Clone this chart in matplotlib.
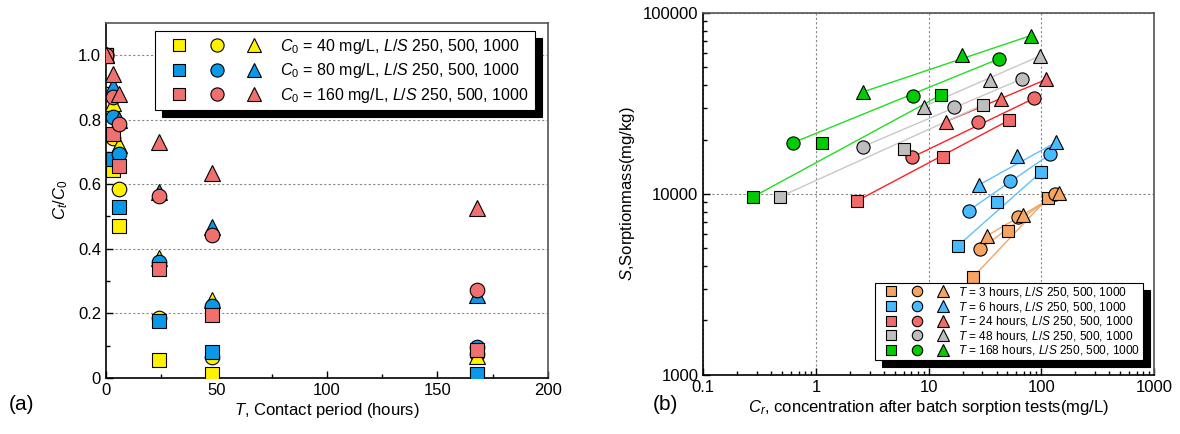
import numpy as np
import matplotlib
matplotlib.use("Agg")
import matplotlib.pyplot as plt
from matplotlib.lines import Line2D
from matplotlib.legend_handler import HandlerTuple
from matplotlib.ticker import NullFormatter

plt.rcParams['font.family'] = ['Liberation Sans', 'DejaVu Sans']
plt.rcParams['mathtext.fontset'] = 'custom'
plt.rcParams['mathtext.rm'] = 'Liberation Sans'
plt.rcParams['mathtext.it'] = 'Liberation Sans:italic'
plt.rcParams['xtick.direction'] = 'in'
plt.rcParams['ytick.direction'] = 'in'

# ---- (a) C/C0 vs contact time ----
times = [0, 3, 6, 24, 48, 168]
c40_ls250 = [1.0, 0.644, 0.469, 0.057, 0.012, 0.010]
c40_ls500 = [1.0, 0.742, 0.585, 0.186, 0.065, 0.075]
c40_ls1000 = [1.0, 0.850, 0.720, 0.371, 0.242, 0.068]
c80_ls250 = [1.0, 0.677, 0.529, 0.175, 0.079, 0.012]
c80_ls500 = [1.0, 0.807, 0.693, 0.360, 0.222, 0.095]
c80_ls1000 = [1.0, 0.905, 0.800, 0.577, 0.466, 0.258]
c160_ls250 = [1.0, 0.755, 0.657, 0.337, 0.196, 0.087]
c160_ls500 = [1.0, 0.870, 0.787, 0.562, 0.442, 0.272]
c160_ls1000 = [1.0, 0.940, 0.879, 0.729, 0.634, 0.525]

labels_a = ["$C_0$ = 40 mg/L, $L/S$ 250, 500, 1000",
            "$C_0$ = 80 mg/L, $L/S$ 250, 500, 1000",
            "$C_0$ = 160 mg/L, $L/S$ 250, 500, 1000"]

# ---- (b) sorption mass vs concentration (points per L/S: C0 = 40, 80, 160) ----
cr_3h_sq = [24.6, 50.8, 115]
s_3h_sq = [3460, 6250, 9550]
cr_3h_ci = [28.5, 61.6, 132]
s_3h_ci = [4950, 7490, 9960]
cr_3h_tr = [32.7, 69.1, 144]
s_3h_tr = [5860, 7650, 10090]

cr_6h_sq = [18.1, 40.6, 99]
s_6h_sq = [5160, 9070, 13180]
cr_6h_ci = [22.6, 52.6, 119]
s_6h_ci = [8090, 11850, 16560]
cr_6h_tr = [27.8, 60.7, 135]
s_6h_tr = [11200, 16280, 19300]

cr_24h_sq = [2.3, 13.5, 51.9]
s_24h_sq = [9150, 15950, 25600]
cr_24h_ci = [7.1, 27.2, 86.5]
s_24h_ci = [15950, 25000, 33800]
cr_24h_tr = [14.2, 43.8, 111]
s_24h_tr = [25100, 33600, 43000]

cr_48h_sq = [0.48, 6.04, 30.1]
s_48h_sq = [9660, 17700, 31000]
cr_48h_ci = [2.6, 16.8, 66.8]
s_48h_ci = [18250, 30100, 43200]
cr_48h_tr = [9.08, 35, 97.2]
s_48h_tr = [30400, 42600, 57900]

cr_168h_sq = [0.278, 1.14, 12.8]
s_168h_sq = [9660, 19050, 35200]
cr_168h_ci = [0.625, 7.21, 42.3]
s_168h_ci = [19200, 34900, 55900]
cr_168h_tr = [2.63, 19.9, 80.4]
s_168h_tr = [36700, 58600, 75000]

labels_b = ["$T$ = 3 hours, $L/S$ 250, 500, 1000",
            "$T$ = 6 hours, $L/S$ 250, 500, 1000",
            "$T$ = 24 hours, $L/S$ 250, 500, 1000",
            "$T$ = 48 hours, $L/S$ 250, 500, 1000",
            "$T$ = 168 hours, $L/S$ 250, 500, 1000"]

fig = plt.figure(figsize=(11.8, 4.34), dpi=100)
ax1 = fig.add_axes([0.0898, 0.129, 0.3746, 0.819])
ax2 = fig.add_axes([0.596, 0.136, 0.382, 0.834])

shapes = ['s', 'o', '^']
cols_a = ['#FFF200', '#0A98E8', '#F07070']
series_a = [[c40_ls250, c40_ls500, c40_ls1000],
            [c80_ls250, c80_ls500, c80_ls1000],
            [c160_ls250, c160_ls500, c160_ls1000]]
sizes = {'s': 9.5, 'o': 10.5, '^': 11}

handles_a = []
for col, group in zip(cols_a, series_a):
    hs = []
    for mk, vals in zip(shapes, group):
        ax1.plot(times, vals, linestyle='none', marker=mk, ms=sizes[mk],
                 mfc=col, mec='black', mew=0.8, zorder=3)
        hs.append(Line2D([], [], linestyle='none', marker=mk, ms=sizes[mk] - 1,
                         mfc=col, mec='black', mew=0.8))
    handles_a.append(tuple(hs))

ax1.set_xlim(0, 200)
ax1.set_ylim(0, 1.1)
ax1.set_xticks([0, 50, 100, 150, 200])
ax1.set_xticks([25, 75, 125, 175], minor=True)
ax1.set_yticks([0, 0.2, 0.4, 0.6, 0.8, 1.0])
ax1.set_yticklabels(['0', '0.2', '0.4', '0.6', '0.8', '1.0'])
ax1.set_yticks(np.arange(0.1, 1.1, 0.2), minor=True)
ax1.tick_params(labelsize=12, length=5, width=1)
ax1.tick_params(which='minor', length=3, width=1)
ax1.yaxis.grid(True, linestyle=(0, (2, 2)), color='#888888', linewidth=0.8)
ax1.set_xlabel("$T$, Contact period (hours)", fontsize=12, labelpad=2)
ax1.set_ylabel("$C_t/C_0$", fontsize=12, labelpad=6)
for sp in ['top', 'right']:
    ax1.spines[sp].set_color('#555555')
for sp in ax1.spines.values():
    sp.set_linewidth(1.2)

leg1 = ax1.legend(handles_a, labels_a, handler_map={tuple: HandlerTuple(ndivide=None, pad=0)},
                  loc='upper right', bbox_to_anchor=(0.97, 0.976), borderaxespad=0,
                  fontsize=11.5, handlelength=7.0, handletextpad=0.5, labelspacing=0.35,
                  borderpad=0.35, fancybox=False, edgecolor='black', framealpha=1,
                  shadow={'ox': 5, 'oy': -5, 'color': 'black', 'alpha': 1})
leg1.get_frame().set_linewidth(0.8)

fig.text(0.007, 0.055, "(a)", fontsize=15)

# ---- panel (b) ----
face_b = ['#F5A462', '#48BAFF', '#F26A6A', '#BEBEBE', '#00CC00']
line_b = ['#F5A462', '#60C0FF', '#FF2020', '#C8C8C8', '#22DD22']
series_b = [[(cr_3h_sq, s_3h_sq), (cr_3h_ci, s_3h_ci), (cr_3h_tr, s_3h_tr)],
            [(cr_6h_sq, s_6h_sq), (cr_6h_ci, s_6h_ci), (cr_6h_tr, s_6h_tr)],
            [(cr_24h_sq, s_24h_sq), (cr_24h_ci, s_24h_ci), (cr_24h_tr, s_24h_tr)],
            [(cr_48h_sq, s_48h_sq), (cr_48h_ci, s_48h_ci), (cr_48h_tr, s_48h_tr)],
            [(cr_168h_sq, s_168h_sq), (cr_168h_ci, s_168h_ci), (cr_168h_tr, s_168h_tr)]]
sizes_b = {'s': 8.5, 'o': 9.5, '^': 10.5}

handles_b = []
for fc, lc, group in zip(face_b, line_b, series_b):
    hs = []
    for mk, (xv, yv) in zip(shapes, group):
        xv = np.array(xv)
        yv = np.array(yv)
        ax2.plot(xv[[0, -1]], yv[[0, -1]], color=lc, linewidth=1.0, zorder=2)
        ax2.plot(xv, yv, linestyle='none', marker=mk, ms=sizes_b[mk],
                 mfc=fc, mec='black', mew=0.8, zorder=3)
        hs.append(Line2D([], [], linestyle='none', marker=mk, ms=sizes_b[mk] - 2,
                         mfc=fc, mec='black', mew=0.8))
    handles_b.append(tuple(hs))

ax2.set_xscale('log')
ax2.set_yscale('log')
ax2.set_xlim(0.1, 1000)
ax2.set_ylim(1000, 100000)
ax2.set_xticks([0.1, 1, 10, 100, 1000])
ax2.set_xticklabels(['0.1', '1', '10', '100', '1000'])
ax2.set_yticks([1000, 10000, 100000])
ax2.set_yticklabels(['1000', '10000', '100000'])
ax2.xaxis.set_minor_formatter(NullFormatter())
ax2.yaxis.set_minor_formatter(NullFormatter())
ax2.tick_params(labelsize=12, length=5, width=1)
ax2.tick_params(which='minor', length=3, width=1)
ax2.grid(True, which='major', linestyle=(0, (2, 2)), color='#888888', linewidth=0.8)
ax2.set_xlabel("$C_r$, concentration after batch sorption tests(mg/L)", fontsize=12, labelpad=2)
ax2.set_ylabel("$S$,Sorptionmass(mg/kg)", fontsize=12, labelpad=4)
for sp in ['top', 'right']:
    ax2.spines[sp].set_color('#555555')
for sp in ax2.spines.values():
    sp.set_linewidth(1.2)

leg2 = ax2.legend(handles_b, labels_b, handler_map={tuple: HandlerTuple(ndivide=None, pad=0)},
                  loc='lower right', bbox_to_anchor=(0.975, 0.042), borderaxespad=0,
                  fontsize=8.6, handlelength=6.6, handletextpad=0.15, labelspacing=0.05,
                  borderpad=0.2, fancybox=False, edgecolor='black', framealpha=1,
                  shadow={'ox': 5, 'oy': -5, 'color': 'black', 'alpha': 1})
leg2.get_frame().set_linewidth(0.8)

fig.text(0.553, 0.055, "(b)", fontsize=15)

fig.savefig("out.png", dpi=100)
